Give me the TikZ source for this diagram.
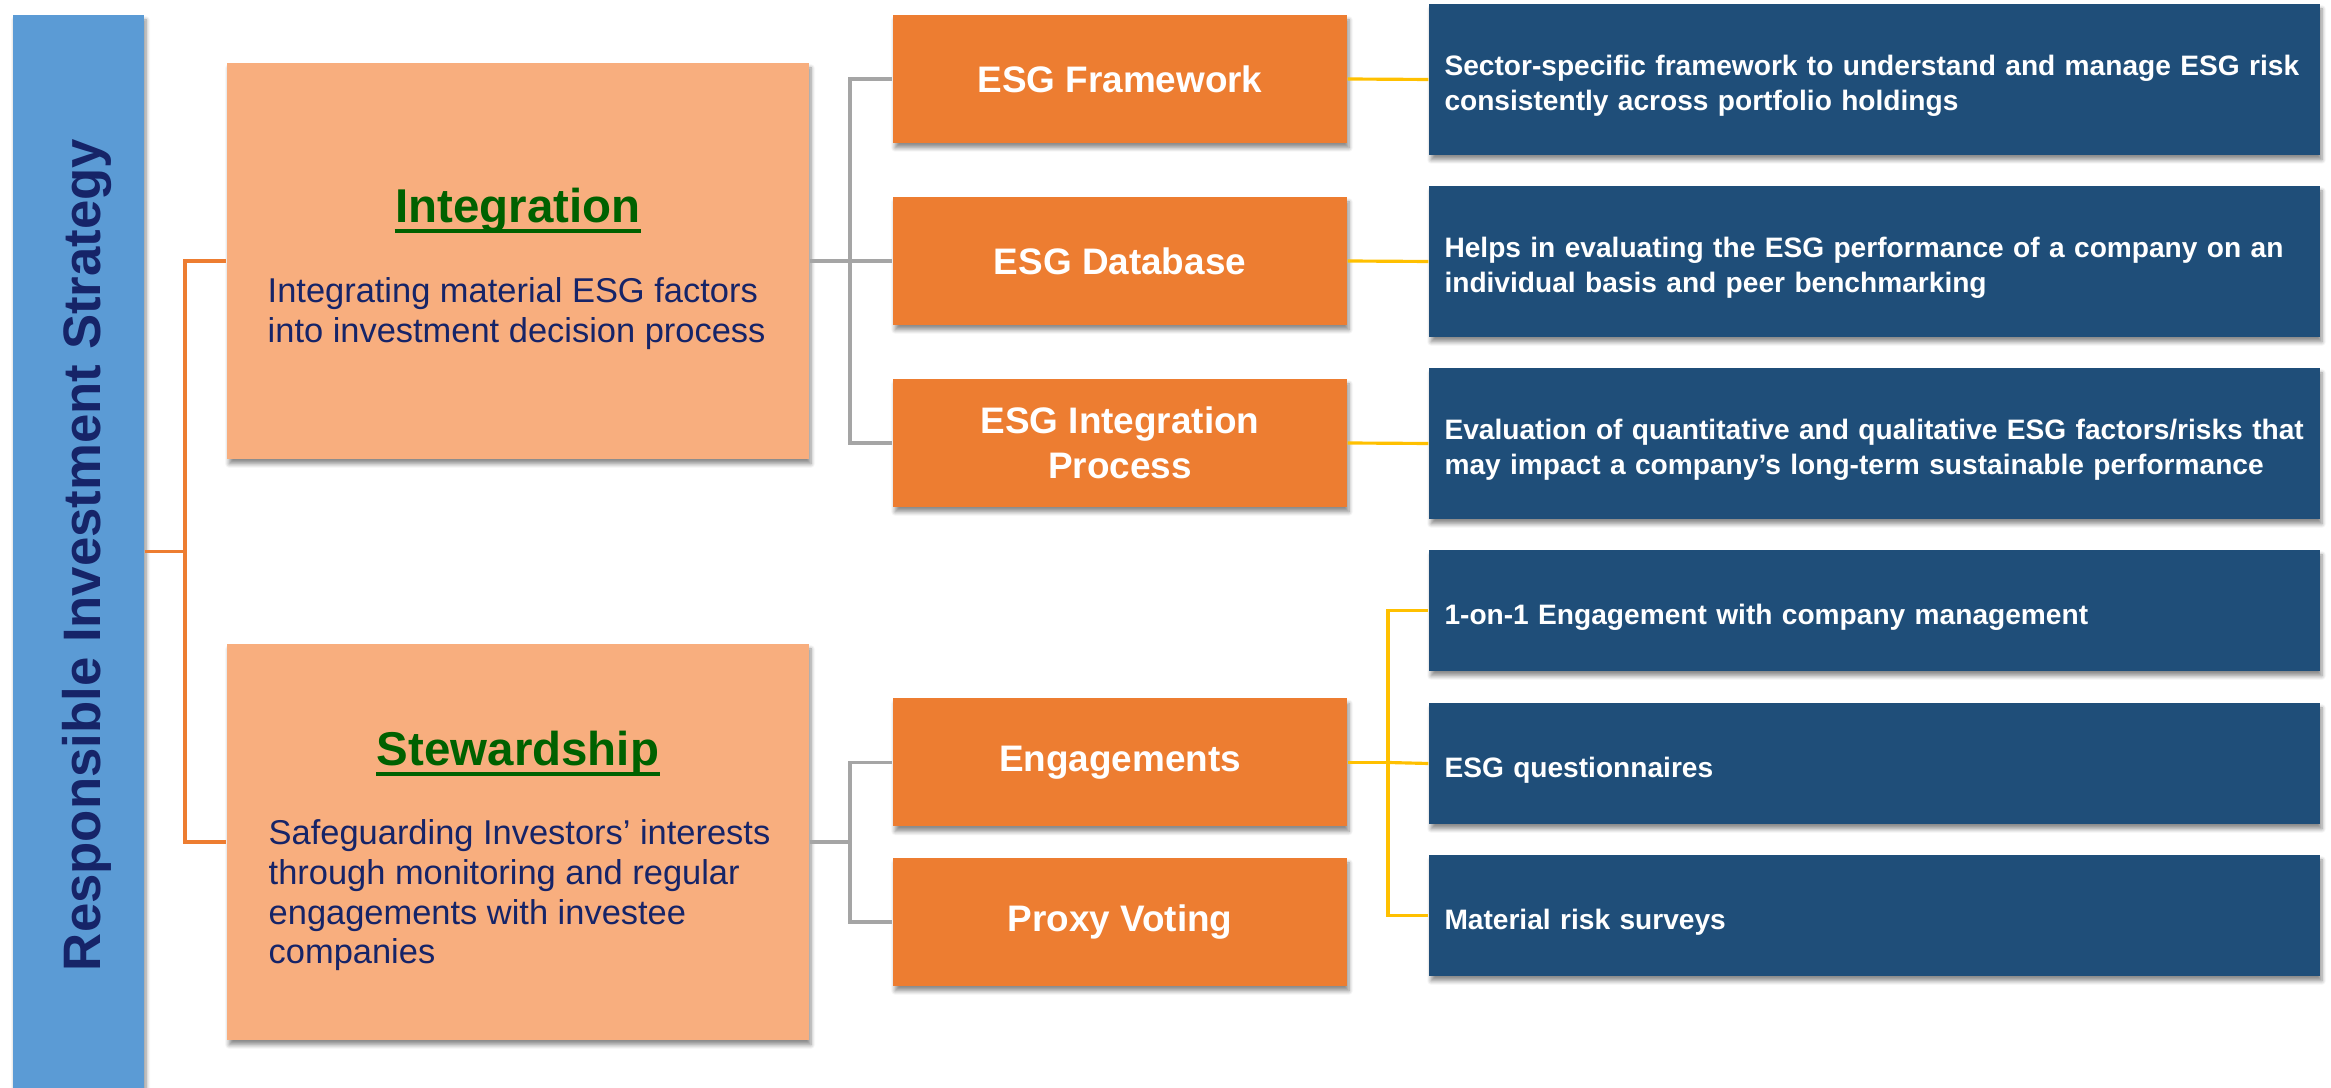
\documentclass[tikz,border=0pt]{standalone}
\usepackage{fontspec}
\setmainfont{Liberation Sans}
\usepackage{tikz}
\usetikzlibrary{calc}
\usetikzlibrary{shadows,shadows.blur}
\usepackage{color}

\definecolor{barreBleue}{RGB}{91,155,213}
\definecolor{peche}{RGB}{248,174,126}
\definecolor{orangeFonce}{RGB}{237,125,49}
\definecolor{bleuNuit}{RGB}{31,78,121}
\definecolor{marine}{RGB}{22,36,104}
\definecolor{vertTitre}{RGB}{0,97,0}
\definecolor{grisLien}{RGB}{165,165,165}
\definecolor{jauneLien}{RGB}{255,192,0}

\tikzset{
	ombre/.style={blur shadow={shadow xshift=0.02cm,shadow yshift=-0.05cm,shadow blur steps=6,shadow blur radius=0.04cm,shadow opacity=45}},
	pilier/.style={fill=peche,ombre,minimum width=5.82cm,minimum height=3.96cm,inner sep=0},
	outil/.style={fill=orangeFonce,ombre,minimum width=4.54cm,minimum height=1.28cm,inner sep=0,
		text=white,align=center,font=\bfseries\fontsize{10.5}{12.8}\selectfont},
	detail/.style={fill=bleuNuit,ombre,text width=8.6cm,inner xsep=0.155cm,inner ysep=0,
		text=white,align=left,font=\bfseries\fontsize{8}{9.7}\selectfont,
		execute at begin node={\rule{0pt}{0.33cm}}},
	titreVert/.style={text=vertTitre,inner sep=0,anchor=base,font=\bfseries\fontsize{13.5}{16}\selectfont},
	corps/.style={text=marine,inner sep=0,anchor=north west,align=left,font=\fontsize{9.8}{11.3}\selectfont},
	lien/.style={line width=0.9pt}
}

\begin{document}
\begin{tikzpicture}
%					Cadre de la page :
					\useasboundingbox (0,0) rectangle (23.31,10.88);
%					Barre de gauche :
					\node[fill=barreBleue,ombre,minimum width=1.31cm,minimum height=10.73cm,inner sep=0] (barre) at (0.785,5.365) {};
					\node[rotate=90,text=marine,font=\bfseries\fontsize{15}{18}\selectfont] (titre) at (0.865,5.33) {Responsible Investment Strategy};
%					Les deux piliers :
					\node[pilier] (integ) at (5.18,8.27) {};
					\node[pilier] (stew) at (5.18,2.46) {};
					\node[titreVert] (integTitre) at ($(integ.center)+(0,0.38)$) {Integration};
					\node[titreVert] (stewTitre) at ($(stew.center)+(0,0.76)$) {Stewardship};
					\draw[vertTitre,line width=1pt] ([yshift=-0.08cm]integTitre.base west) -- ([yshift=-0.08cm]integTitre.base east);
					\draw[vertTitre,line width=1pt] ([yshift=-0.08cm]stewTitre.base west) -- ([yshift=-0.08cm]stewTitre.base east);
					\node[corps] (integTexte) at (2.67,8.11) {Integrating material ESG factors\\into investment decision process};
					\node[corps] (stewTexte) at (2.68,2.69) {Safeguarding Investors’ interests\\through monitoring and regular\\engagements with investee\\companies};
%					Les outils (orange) :
					\node[outil] (cadre) at (11.20,10.09) {ESG Framework};
					\node[outil] (base) at (11.20,8.27) {ESG Database};
					\node[outil] (process) at (11.20,6.45) {ESG Integration\\Process};
					\node[outil] (engage) at (11.20,3.255) {Engagements};
					\node[outil] (vote) at (11.20,1.66) {Proxy Voting};
%					Les details (bleu) :
					\node[detail,minimum height=1.51cm] (d1) at (18.745,10.085) {Sector-specific framework to understand and manage ESG risk\\consistently across portfolio holdings};
					\node[detail,minimum height=1.51cm] (d2) at (18.745,8.265) {Helps in evaluating the ESG performance of a company on an\\individual basis and peer benchmarking};
					\node[detail,minimum height=1.51cm] (d3) at (18.745,6.445) {Evaluation of quantitative and qualitative ESG factors/risks that\\may impact a company’s long-term sustainable performance};
					\node[detail,minimum height=1.21cm] (d4) at (18.745,4.775) {1-on-1 Engagement with company management};
					\node[detail,minimum height=1.21cm] (d5) at (18.745,3.245) {ESG questionnaires};
					\node[detail,minimum height=1.21cm] (d6) at (18.745,1.725) {Material risk surveys};
%					Tracé des liens :
					\coordinate (fourche) at (1.85,5.365);
					\draw[lien,orangeFonce] (barre.east) -- (fourche) |- (integ.west);
					\draw[lien,orangeFonce] (fourche) |- (stew.west);
					\coordinate (fourcheA) at (8.50,8.27);
					\draw[lien,grisLien] (integ.east) -- (fourcheA) |- (cadre.west);
					\draw[lien,grisLien] (fourcheA) -- (base.west);
					\draw[lien,grisLien] (fourcheA) |- (process.west);
					\coordinate (fourcheB) at (8.50,2.46);
					\draw[lien,grisLien] (stew.east) -- (fourcheB) |- (engage.west);
					\draw[lien,grisLien] (fourcheB) |- (vote.west);
					\draw[lien,jauneLien] (cadre.east) -- (d1.west);
					\draw[lien,jauneLien] (base.east) -- (d2.west);
					\draw[lien,jauneLien] (process.east) -- (d3.west);
					\coordinate (fourcheC) at (13.88,3.255);
					\draw[lien,jauneLien] (engage.east) -- (fourcheC) |- (d4.west);
					\draw[lien,jauneLien] (fourcheC) -- (d5.west);
					\draw[lien,jauneLien] (fourcheC) |- (d6.west);
				\end{tikzpicture}
\end{document}
